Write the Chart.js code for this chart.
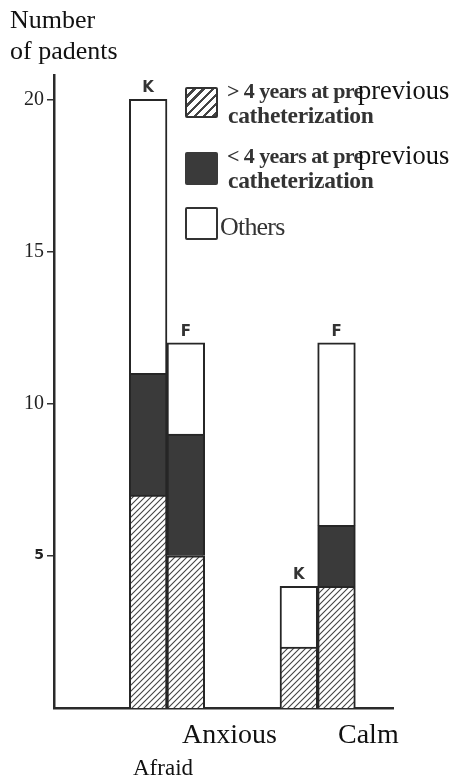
<!DOCTYPE html>
<html>
<head>
<meta charset="utf-8">
<script src="https://cdn.jsdelivr.net/npm/chart.js@4/dist/chart.umd.min.js"></script>
<style>
    body { margin: 0; background: #fff; }
    #wrap { position: relative; width: 453px; height: 781px; }
    .txt { position: absolute; white-space: nowrap; line-height: 1; font-family: "Liberation Serif", serif; color: #111; }
    .scan { font-weight: bold; color: #333; font-size: 22px; }
    .cath { font-size: 23.5px; letter-spacing: -0.3px; }
    .big { font-size: 26px; }
    .box { position: absolute; left: 185px; width: 33px; box-sizing: border-box; border-radius: 2px; }
</style>
</head>
<body>
<div id="wrap">
    <canvas id="chart" width="453" height="781"></canvas>

    <!-- AXIS TITLE -->
    <div class="txt big" style="left:10px; top:7px;">Number</div>
    <div class="txt big" style="left:10px; top:38px;">of padents</div>

    <!-- LEGEND -->
    <div class="box" style="top:87px; height:31px; border:2.5px solid #333;
        background: repeating-linear-gradient(135deg, #fff 0 4px, #444 4px 6.5px);"></div>
    <div class="txt scan" style="left:227px; top:80px; letter-spacing:-0.6px;">&gt; 4 years at pre</div>
    <div class="txt big" style="left:358px; top:77px; font-size:26.5px;">previous</div>
    <div class="txt scan cath" style="left:228px; top:104px;">catheterization</div>

    <div class="box" style="top:152px; height:33px; background:#3a3a3a;"></div>
    <div class="txt scan" style="left:227px; top:145px; letter-spacing:-0.6px;">&lt; 4 years at pre</div>
    <div class="txt big" style="left:358px; top:142px; font-size:26.5px;">previous</div>
    <div class="txt scan cath" style="left:228px; top:169px;">catheterization</div>

    <div class="box" style="top:207px; height:33px; border:2.5px solid #333; background:#fff;"></div>
    <div class="txt" style="left:220px; top:214px; font-size:26px; color:#333; letter-spacing:-0.8px;">Others</div>

    <!-- GROUP LABELS -->
    <div class="txt" style="left:182px; top:720px; font-size:28px;">Anxious</div>
    <div class="txt" style="left:338px; top:720px; font-size:28px;">Calm</div>
    <div class="txt" style="left:133px; top:756px; font-size:23px;">Afraid</div>
</div>

<script>
// DATA
const slots = ["", "", "K", "F", "", "", "K", "F", ""];
const olderCath = [null, null, 7, 5, null, null, 2, 4, null];
const youngerCath = [null, null, 4, 4, null, null, null, 2, null];
const others = [null, null, 9, 3, null, null, 2, 6, null];
const yTicks = [5, 10, 15, 20];

// HATCH FILL
function makeHatch() {
    const c = document.createElement("canvas");
    c.width = 6;
    c.height = 6;
    const g = c.getContext("2d");
    g.fillStyle = "#fff";
    g.fillRect(0, 0, 6, 6);
    g.strokeStyle = "#444";
    g.lineWidth = 1.1;
    g.beginPath();
    g.moveTo(0, 6); g.lineTo(6, 0);
    g.moveTo(-1, 1); g.lineTo(1, -1);
    g.moveTo(5, 7); g.lineTo(7, 5);
    g.stroke();
    return g.createPattern(c, "repeat");
}

// K / F LABELS ABOVE BARS
const barLabels = {
    id: "barLabels",
    afterDatasetsDraw(chart) {
        const meta = chart.getDatasetMeta(2);
        const ctx = chart.ctx;
        ctx.save();
        ctx.font = "bold 15px 'DejaVu Sans'";
        ctx.fillStyle = "#333";
        ctx.textAlign = "center";
        meta.data.forEach((bar, i) => {
            if (others[i] == null) return;
            ctx.fillText(slots[i], bar.x, bar.y - 7);
        });
        ctx.restore();
    }
};

const barStyle = {
    barPercentage: 1,
    categoryPercentage: 1,
    borderWidth: 2,
    borderColor: "#262626"
};

new Chart(document.getElementById("chart"), {
    type: "bar",
    data: {
        labels: slots,
        datasets: [
            { label: "> 4 years at previous catheterization", data: olderCath, backgroundColor: makeHatch(), ...barStyle },
            { label: "< 4 years at previous catheterization", data: youngerCath, backgroundColor: "#3a3a3a", ...barStyle },
            { label: "Others", data: others, backgroundColor: "#fff", ...barStyle }
        ]
    },
    options: {
        responsive: false,
        animation: false,
        layout: { padding: { left: 0, right: 60, top: 75, bottom: 73 } },
        plugins: {
            legend: { display: false },
            tooltip: { enabled: false }
        },
        scales: {
            x: {
                stacked: true,
                grid: { display: false },
                ticks: { display: false },
                border: { color: "#2a2a2a", width: 2.5 },
                afterFit(s) { s.height = 0; }
            },
            y: {
                stacked: true,
                min: 0,
                max: 20.8,
                afterBuildTicks(s) { s.ticks = yTicks.map(v => ({ value: v })); },
                ticks: {
                    padding: 3,
                    color: "#222",
                    font: c => (c.tick && c.tick.value === 5)
                        ? { family: "DejaVu Sans", weight: "bold", size: 14 }
                        : { family: "Liberation Serif", size: 20 }
                },
                grid: { drawOnChartArea: false, tickLength: 7, color: "#333", lineWidth: 1.5 },
                border: { color: "#2a2a2a", width: 2.5 },
                afterFit(s) { s.width = 54; }
            }
        }
    },
    plugins: [barLabels]
});
</script>
</body>
</html>
